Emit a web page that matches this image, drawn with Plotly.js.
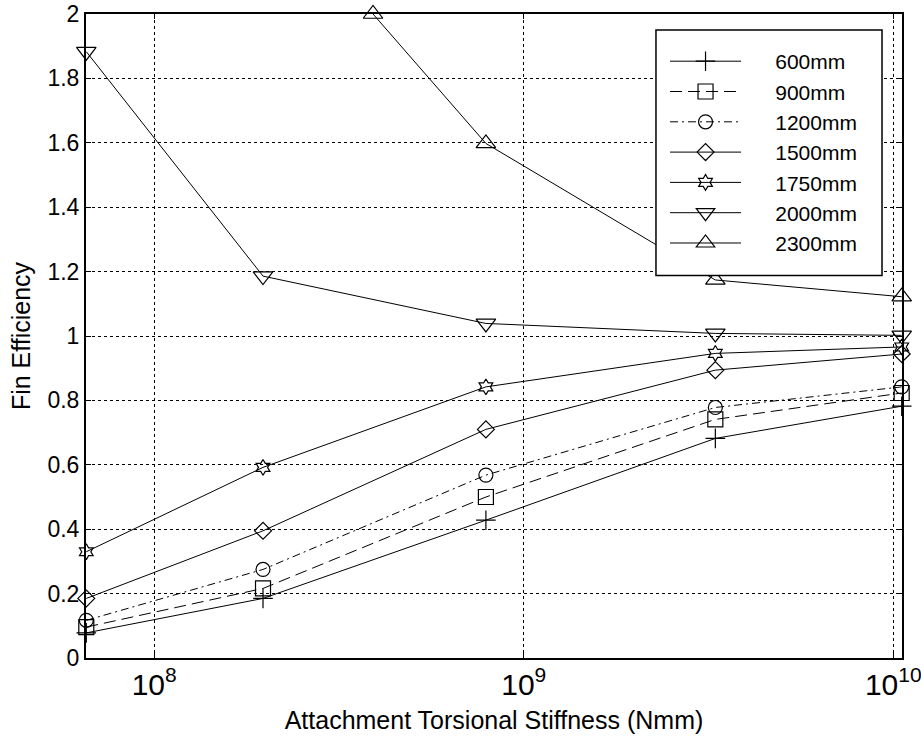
<!DOCTYPE html>
<html>
<head>
<meta charset="utf-8">
<script src="https://cdn.plot.ly/plotly-3.0.1.min.js"></script>
<style>
  html, body { margin: 0; padding: 0; background: #fff; }
  #chart { width: 921px; height: 742px; }
</style>
</head>
<body>
<div id="chart"></div>
<script>
// Attachment torsional stiffness (Nmm)
const stiffness = [6.55e7, 1.97e8, 7.9e8, 3.3e9, 1.054e10];
const stiffness2300 = [3.91e8, 7.9e8, 3.3e9, 1.054e10];

// Fin efficiency per fin length
const eff600  = [0.078, 0.185, 0.428, 0.682, 0.782];
const eff900  = [0.096, 0.216, 0.500, 0.741, 0.823];
const eff1200 = [0.117, 0.275, 0.568, 0.778, 0.842];
const eff1500 = [0.185, 0.395, 0.710, 0.894, 0.944];
const eff1750 = [0.330, 0.592, 0.842, 0.946, 0.966];
const eff2000 = [1.883, 1.186, 1.039, 1.008, 1.002];
const eff2300 = [2.000, 1.598, 1.174, 1.122];

const seriesNames = ['600mm', '900mm', '1200mm', '1500mm', '1750mm', '2000mm', '2300mm'];

const FONT = 'Liberation Sans, Arial, sans-serif';
const PAD = '\u00a0\u00a0\u00a0\u00a0\u00a0'; // legend text indent

function mk(name, x, y, symbol, size, dash) {
  return {
    type: 'scatter', mode: 'lines+markers', name: PAD + name,
    legendgroup: name,
    x: x, y: y, cliponaxis: false,
    line: { color: '#000', width: 1, dash: dash },
    marker: { symbol: symbol, size: size, color: '#000',
              line: { color: '#000', width: 1.2 } }
  };
}

const traces = [
  mk(seriesNames[0], stiffness, eff600,  'cross-thin-open', 14, 'solid'),
  mk(seriesNames[1], stiffness, eff900,  'square-open', 15, '12px,6px'),
  mk(seriesNames[2], stiffness, eff1200, 'circle-open', 14, '8px,4px,2px,4px'),
  mk(seriesNames[3], stiffness, eff1500, 'diamond-open', 13, 'solid'),
  mk(seriesNames[4], stiffness, eff1750, 'hexagram-open', 12, 'solid'),
  mk(seriesNames[5], stiffness, eff2000, 'triangle-down-open', 17, 'solid'),
  mk(seriesNames[6], stiffness2300, eff2300, 'triangle-up-open', 17, 'solid')
];

const xr = [Math.log10(Math.min(...stiffness)) - 0.0008, Math.log10(Math.max(...stiffness)) + 0.0008];

const layout = {
  width: 921, height: 742,
  margin: { l: 86, r: 19, t: 14, b: 84 },
  paper_bgcolor: '#fff', plot_bgcolor: '#fff',
  font: { family: FONT, color: '#000', size: 23 },
  showlegend: true,
  xaxis: {
    type: 'log', range: xr, dtick: 1,
    exponentformat: 'power', showexponent: 'all',
    ticklabeloverflow: 'allow',
    showgrid: true, gridcolor: '#000', griddash: 'dot', gridwidth: 1,
    showline: true, linecolor: '#000', linewidth: 2, mirror: 'ticks',
    ticks: 'inside', ticklen: 5, tickcolor: '#000', tickwidth: 1,
    zeroline: false,
    tickfont: { family: FONT, size: 24, color: '#000' },
    title: { text: 'Attachment Torsional Stiffness (Nmm)', font: { family: FONT, size: 25, color: '#000' }, standoff: 12 }
  },
  yaxis: {
    range: [0, 2], dtick: 0.2,
    showgrid: true, gridcolor: '#000', griddash: 'dot', gridwidth: 1,
    showline: true, linecolor: '#000', linewidth: 2, mirror: 'ticks',
    ticks: 'inside', ticklen: 5, tickcolor: '#000', tickwidth: 1,
    zeroline: false,
    tickfont: { family: FONT, size: 23, color: '#000' },
    title: { text: 'Fin Efficiency', font: { family: FONT, size: 25, color: '#000' }, standoff: 10 }
  },
  legend: {
    x: 0.7096, y: 0.958, xanchor: 'left', yanchor: 'top',
    bgcolor: 'rgba(0,0,0,0)', borderwidth: 0,
    font: { family: FONT, size: 21, color: '#000' },
    itemwidth: 71, tracegroupgap: 0, traceorder: 'normal'
  },
  shapes: [{
    type: 'rect', xref: 'paper', yref: 'paper', layer: 'above',
    x0: 0.6985, x1: 0.9755, y0: 0.594, y1: 0.975,
    fillcolor: '#fff', line: { color: '#000', width: 1.5 }
  }]
};

Plotly.newPlot('chart', traces, layout, { staticPlot: true });
</script>
</body>
</html>
